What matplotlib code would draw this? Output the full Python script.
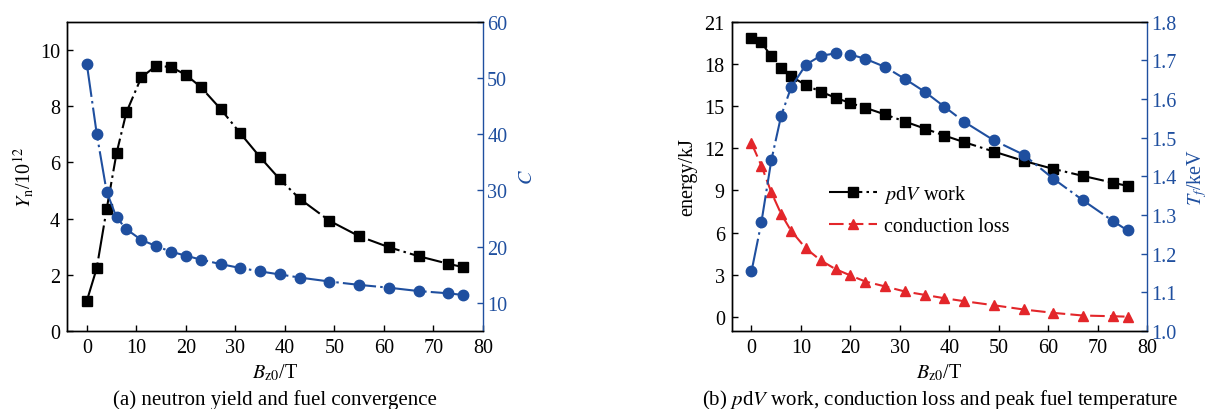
import matplotlib
matplotlib.use("Agg")
import matplotlib.pyplot as plt

plt.rcParams['font.family'] = ['Liberation Serif', 'DejaVu Serif']
plt.rcParams['mathtext.fontset'] = 'stix'

# ---------------- data ----------------
bz0 = [0, 2, 4, 6, 8, 11, 14, 17, 20, 23, 27, 31, 35, 39, 43, 49, 55, 61, 67, 73, 76]
yield_n = [1.07, 2.23, 4.33, 6.32, 7.78, 9.02, 9.43, 9.39, 9.11, 8.68, 7.90, 7.03,
           6.18, 5.39, 4.70, 3.92, 3.37, 2.98, 2.66, 2.39, 2.27]
convergence = [52.5, 40.1, 29.8, 25.2, 23.1, 21.2, 20.1, 19.1, 18.4, 17.7, 16.9, 16.2,
               15.6, 15.05, 14.5, 13.8, 13.2, 12.7, 12.1, 11.7, 11.4]
pdv_work = [19.84, 19.53, 18.53, 17.68, 17.11, 16.49, 16.02, 15.59, 15.21, 14.88, 14.40,
            13.90, 13.40, 12.90, 12.43, 11.76, 11.10, 10.53, 10.03, 9.55, 9.32]
conduction = [12.36, 10.76, 8.87, 7.32, 6.13, 4.87, 4.02, 3.40, 2.95, 2.52, 2.17, 1.81,
              1.57, 1.33, 1.12, 0.83, 0.53, 0.29, 0.10, 0.05, 0.02]
temp_f = [1.154, 1.281, 1.441, 1.557, 1.630, 1.689, 1.712, 1.718, 1.715, 1.704, 1.683,
          1.652, 1.619, 1.580, 1.541, 1.493, 1.456, 1.394, 1.338, 1.285, 1.260]

xticks = [0, 10, 20, 30, 40, 50, 60, 70, 80]
yn_ticks = [0, 2, 4, 6, 8, 10]
c_ticks = [10, 20, 30, 40, 50, 60]
e_ticks = [0, 3, 6, 9, 12, 15, 18, 21]
t_ticks = [1.0, 1.1, 1.2, 1.3, 1.4, 1.5, 1.6, 1.7, 1.8]

BLUE = '#1f4f9f'
RED = '#e3262a'
BLACK = '#000000'
FS = 14.5
dashdot = (0, (16, 2, 1.2, 2))

fig = plt.figure(figsize=(12.07, 4.10), dpi=100)

def style_axes(ax, twin):
    for ax_ in (ax, twin):
        ax_.tick_params(direction='in', length=4.5, width=1.0, labelsize=FS, pad=5)
        for s in ax_.spines.values():
            s.set_linewidth(1.0)
    twin.spines['right'].set_color(BLUE)
    twin.tick_params(axis='y', colors=BLUE, labelcolor=BLUE, pad=3)
    ax.spines['right'].set_visible(False)

# ---------------- panel (a) ----------------
ax1 = fig.add_axes([67/1207, 1-332/410, (483-67)/1207, (332-22.7)/410])
ax1b = ax1.twinx()
style_axes(ax1, ax1b)

ax1.plot(bz0, yield_n, color=BLACK, lw=1.5, ls=dashdot, marker='s', ms=6.5, zorder=3)
ax1b.plot(bz0, convergence, color=BLUE, lw=1.5, ls=dashdot, marker='o', ms=7.5, zorder=3)

ax1.set_xlim(-4, 80)
ax1.set_ylim(0, 11)
ax1b.set_ylim(5, 60)
ax1.set_xticks(xticks)
ax1.set_yticks(yn_ticks)
ax1b.set_yticks(c_ticks)
ax1.set_ylabel(r'$Y_{\rm n}$/10$^{12}$', fontsize=FS, labelpad=3)
ax1b.set_ylabel(r'$C$', fontsize=FS, color=BLUE, labelpad=8)
ax1.set_xlabel(r'$B_{\rm z0}$/T', fontsize=FS, labelpad=3)

# ---------------- panel (b) ----------------
ax2 = fig.add_axes([731.7/1207, 1-332/410, (1147.3-731.7)/1207, (332-22.7)/410])
ax2b = ax2.twinx()
style_axes(ax2, ax2b)

l1, = ax2.plot(bz0, pdv_work, color=BLACK, lw=1.5, ls=dashdot, marker='s', ms=6.5,
               zorder=3, label=r'$p$d$V$ work')
l2, = ax2.plot(bz0, conduction, color=RED, lw=1.5, ls=(0, (7, 2.5)), marker='^', ms=7.5,
               zorder=3, label='conduction loss')
ax2b.plot(bz0, temp_f, color=BLUE, lw=1.5, ls=dashdot, marker='o', ms=7.5, zorder=3)

ax2.set_xlim(-4, 80)
ax2.set_ylim(-1, 21)
ax2b.set_ylim(1.0, 1.8)
ax2.set_xticks(xticks)
ax2.set_yticks(e_ticks)
ax2b.set_yticks(t_ticks)
ax2b.set_yticklabels([f'{t:.1f}' for t in t_ticks])
ax2.set_ylabel('energy/kJ', fontsize=FS, labelpad=5)
ax2b.set_ylabel(r'$T_{f}$/keV', fontsize=FS, color=BLUE, labelpad=6)
ax2.set_xlabel(r'$B_{\rm z0}$/T', fontsize=FS, labelpad=3)

leg = ax2.legend(handles=[l1, l2], loc='upper left', bbox_to_anchor=(0.215, 0.505),
                 frameon=False, fontsize=FS, handlelength=2.4, handletextpad=0.35,
                 labelspacing=0.6, borderaxespad=0)

# ---------------- captions ----------------
fig.text(275/1207, 1-400/410, '(a) neutron yield and fuel convergence',
         ha='center', va='center', fontsize=15)
fig.text(940/1207, 1-400/410, r'(b) $p$d$V$ work, conduction loss and peak fuel temperature',
         ha='center', va='center', fontsize=15)

fig.savefig('out.png', dpi=100)
